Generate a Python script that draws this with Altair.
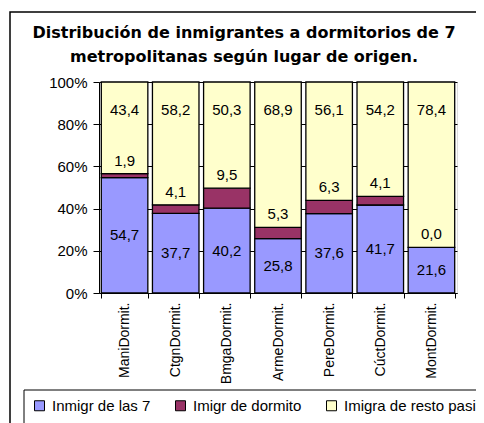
import altair as alt
import pandas as pd

cats = ["ManiDormit.", "CtgnDormit.", "BmgaDormit.", "ArmeDormit.",
        "PereDormit.", "CúctDormit.", "MontDormit."]
series = ["Inmigr de las 7", "Imigr de dormito", "Imigra de resto pasi"]
inmigr7 = [54.7, 37.7, 40.2, 25.8, 37.6, 41.7, 21.6]
dormito = [1.9, 4.1, 9.5, 5.3, 6.3, 4.1, 0.0]
resto = [43.4, 58.2, 50.3, 68.9, 56.1, 54.2, 78.4]
colors = ["#9999FF", "#993366", "#FFFFCC"]
title_lines = ["Distribución de inmigrantes a dormitorios de 7",
               "metropolitanas según lugar de origen."]

rows = []
for i, c in enumerate(cats):
    vals = [inmigr7[i], dormito[i], resto[i]]
    cum = 0.0
    for k, (s, v) in enumerate(zip(series, vals)):
        if k == 0:
            lab_y = v / 2
        elif k == 1:
            lab_y = cum + v
        else:
            lab_y = 100.0
        rows.append({"cat": c, "series": s, "value": v, "order": k,
                     "label": f"{v:.1f}".replace(".", ","), "lab_y": lab_y})
        cum += v
df = pd.DataFrame(rows)

FONT = "Liberation Sans"
W, H = 358, 211

x_enc = alt.X("cat:N", sort=cats, title=None,
              scale=alt.Scale(paddingInner=0.09, paddingOuter=0.045),
              axis=alt.Axis(labelAngle=-90, labelFontSize=14, labelFont=FONT,
                            labelColor="black", tickBand="extent", tickSize=5,
                            tickColor="black", domainColor="black",
                            labelPadding=4, labelBaseline="middle",
                            labelAlign="right"))

base = alt.Chart(df)

bars = base.mark_bar(stroke="black", strokeWidth=1.3).encode(
    x=x_enc,
    y=alt.Y("value:Q", stack="zero", title=None,
            scale=alt.Scale(domain=[0, 100], nice=False),
            axis=alt.Axis(values=[0, 20, 40, 60, 80, 100],
                          labelExpr="datum.value + '%'",
                          labelFontSize=15, labelFont=FONT, labelColor="black",
                          tickSize=6, tickColor="black", domainColor="black",
                          grid=True, gridColor="black", gridWidth=1,
                          labelPadding=6)),
    color=alt.Color("series:N",
                    scale=alt.Scale(domain=series, range=colors),
                    legend=alt.Legend(title=None, orient="none",
                                      legendX=-75, legendY=308,
                                      direction="horizontal",
                                      symbolType="square", symbolSize=100,
                                      symbolStrokeColor="black",
                                      symbolStrokeWidth=1,
                                      labelFontSize=15, labelFont=FONT,
                                      labelColor="black", columnPadding=22,
                                      labelOffset=5,
                                      padding=8)),
    order=alt.Order("order:Q"),
)

def text_layer(k, dy):
    return base.transform_filter(alt.datum.order == k).mark_text(
        fontSize=15, font=FONT, color="black", baseline="middle", dy=dy
    ).encode(
        x=alt.X("cat:N", sort=cats),
        y=alt.Y("lab_y:Q"),
        text="label:N",
    )

one = alt.Data(values=[{}])

frame = alt.Chart(one).mark_rect(
    fill=None, stroke="black", strokeWidth=1.5
).encode(
    x=alt.value(-89), x2=alt.value(W + 60),
    y=alt.value(-70), y2=alt.value(H + 160),
)

legend_box = alt.Chart(one).mark_rect(
    fill="white", stroke="black", strokeWidth=1
).encode(
    x=alt.value(-75), x2=alt.value(W + 60),
    y=alt.value(308), y2=alt.value(H + 160),
)

def title_layer(i, y):
    return alt.Chart(one).mark_text(
        text=title_lines[i], fontSize=16, font="DejaVu Sans", fontWeight="bold",
        color="black", align="center", baseline="alphabetic"
    ).encode(x=alt.value(W / 2 - 34), y=alt.value(y))

chart = alt.layer(
    frame, legend_box, bars, text_layer(0, 0), text_layer(1, -13),
    text_layer(2, 28), title_layer(0, -44), title_layer(1, -20)
).properties(
    width=W, height=H,
    autosize=alt.AutoSizeParams(type="none"),
    padding={"left": 91, "top": 74, "right": 19, "bottom": 130},
).configure_view(stroke="#808080", strokeWidth=1).configure(background="white")

chart.save("out.html", embed_options={"renderer": "svg", "actions": False})
